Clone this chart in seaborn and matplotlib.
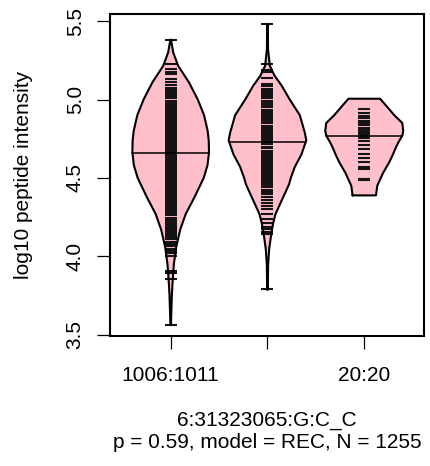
import numpy as np
import pandas as pd
import matplotlib
matplotlib.use("Agg")
import matplotlib.pyplot as plt
import seaborn as sns

# group labels (middle label is dropped in the original)
groups = ["1006:1011", "", "20:20"]

# bean outlines: y levels and half widths (category units)
bean1_y = [3.565, 3.65, 3.75, 3.84, 3.95, 4.06, 4.17, 4.27, 4.38, 4.50,
           4.58, 4.663, 4.74, 4.80, 4.90, 5.00, 5.108, 5.215, 5.30, 5.381]
bean1_w = [0.003, 0.007, 0.012, 0.020, 0.033, 0.057, 0.098, 0.155, 0.248, 0.341,
           0.380, 0.396, 0.393, 0.382, 0.345, 0.280, 0.190, 0.077, 0.026, 0.003]

bean2_y = [3.789, 3.95, 4.05, 4.15, 4.21, 4.27, 4.33, 4.40, 4.46, 4.50, 4.57,
           4.65, 4.74, 4.79, 4.90, 5.00, 5.09, 5.15, 5.215, 5.32, 5.479]
bean2_w = [0.003, 0.007, 0.018, 0.041, 0.058, 0.083, 0.127, 0.179, 0.223, 0.241, 0.282,
           0.351, 0.401, 0.385, 0.334, 0.230, 0.145, 0.075, 0.024, 0.006, 0.003]

bean3_y = [4.389, 4.45, 4.534, 4.60, 4.64, 4.70, 4.725, 4.77, 4.80, 4.85, 4.90, 4.96, 5.005]
bean3_w = [0.121, 0.134, 0.196, 0.258, 0.289, 0.331, 0.351, 0.393, 0.403, 0.393, 0.310, 0.227, 0.163]

# group means
means = [4.662, 4.732, 4.770]

# individual observations (bean lines)
obs1 = [5.381, 5.225, 5.193, 5.176, 5.162, 5.130, 5.112, 5.091, 5.075, 5.059,
        5.045, 5.035, 5.023, 5.010,
        4.99, 4.98, 4.97, 4.96, 4.95, 4.94, 4.93, 4.92, 4.91, 4.90,
        4.89, 4.88, 4.87, 4.86, 4.85, 4.84, 4.83, 4.82, 4.81, 4.80,
        4.79, 4.78, 4.77, 4.76, 4.75, 4.74, 4.73, 4.72, 4.71, 4.70,
        4.69, 4.68, 4.67, 4.66, 4.65, 4.64, 4.63, 4.62, 4.61, 4.60,
        4.59, 4.58, 4.57, 4.56, 4.55, 4.54, 4.53, 4.52, 4.51, 4.50,
        4.49, 4.48, 4.47, 4.46, 4.45, 4.44, 4.43, 4.42, 4.41, 4.40,
        4.39, 4.38, 4.37, 4.36, 4.35, 4.34, 4.33, 4.32, 4.31, 4.30,
        4.288, 4.275, 4.262, 4.248, 4.236, 4.224, 4.214, 4.200, 4.186, 4.172,
        4.160, 4.148, 4.136, 4.124, 4.110, 4.095, 4.080, 4.065, 4.050, 4.035,
        4.020, 4.005, 3.906, 3.897, 3.857, 3.565]

obs2 = [5.479, 5.227, 5.189, 5.175, 5.136, 5.100, 5.085, 5.068, 5.058, 5.048,
        5.038, 5.028, 5.018, 5.008,
        4.99, 4.98, 4.97, 4.96, 4.95, 4.93, 4.92, 4.91, 4.90, 4.89,
        4.88, 4.87, 4.86, 4.85, 4.83, 4.82, 4.81, 4.80, 4.79, 4.78,
        4.77, 4.76, 4.75, 4.74, 4.728, 4.715, 4.700, 4.690, 4.675, 4.660,
        4.645, 4.635, 4.620, 4.610, 4.600, 4.590, 4.580, 4.570, 4.560, 4.550,
        4.540, 4.530, 4.520, 4.510, 4.500, 4.490, 4.475, 4.460, 4.450, 4.440,
        4.425, 4.410, 4.400, 4.380, 4.360, 4.340, 4.320, 4.300, 4.270, 4.240,
        4.210, 4.185, 4.172, 4.153, 4.140, 3.791]

obs3 = [4.938, 4.913, 4.895, 4.879, 4.864, 4.851, 4.838, 4.821, 4.808, 4.796,
        4.783, 4.768, 4.753, 4.736, 4.708, 4.683, 4.655, 4.630, 4.600, 4.570,
        4.559, 4.496, 4.485]

profiles = [(bean1_y, bean1_w), (bean2_y, bean2_w), (bean3_y, bean3_w)]
obs = [obs1, obs2, obs3]

df = pd.DataFrame({
    "pos": np.concatenate([[i] * len(o) for i, o in enumerate(obs)]),
    "value": np.concatenate(obs),
})

sns.set_style("ticks")
plt.rcParams['font.family'] = ['Liberation Sans', 'DejaVu Sans']

fig, ax = plt.subplots(figsize=(4.3, 4.66), dpi=100)
fig.subplots_adjust(left=0.2558, right=0.986, bottom=0.279, top=0.970)

# draw the beans
for i, (ys, ws) in enumerate(profiles):
    ys = np.array(ys)
    ws = np.array(ws)
    xs = np.concatenate([i - ws, (i + ws)[::-1]])
    yy = np.concatenate([ys, ys[::-1]])
    ax.fill(xs, yy, facecolor="#FFC0CB", edgecolor="none", zorder=1)
    ax.plot(np.append(xs, xs[0]), np.append(yy, yy[0]), color="black", lw=1.5, zorder=3)

# bean lines for each observation
sns.scatterplot(data=df, x="pos", y="value", marker="_", s=85, color="#141414",
                linewidth=1.5, ax=ax, legend=False, zorder=2)

# mean lines
for i, m in enumerate(means):
    ys, ws = profiles[i]
    w = np.interp(m, ys, ws)
    ax.plot([i - w, i + w], [m, m], color="black", lw=1.1, zorder=4)

ax.set_xlim(-0.627, 2.617)
ax.set_ylim(3.493, 5.545)
ax.set_xticks([0, 1, 2])
ax.set_xticklabels(groups)
ax.set_yticks([3.5, 4.0, 4.5, 5.0, 5.5])
ax.set_yticklabels(["3.5", "4.0", "4.5", "5.0", "5.5"])
for lab in ax.get_yticklabels():
    lab.set_rotation(90)
    lab.set_va("center")

ax.tick_params(axis="both", length=9.7, width=0.9, color="black", labelsize=15, labelcolor="black")
ax.tick_params(axis="y", pad=8.5)
ax.tick_params(axis="x", pad=12)
for sp in ax.spines.values():
    sp.set_visible(True)
    sp.set_linewidth(1.5)
    sp.set_color("black")

ax.set_ylabel("log10 peptide intensity", fontsize=15, color="black")
ax.yaxis.set_label_coords(-0.245, 0.5)
ax.set_xlabel("6:31323065:G:C_C\np = 0.59, model = REC, N = 1255", fontsize=15,
              color="black", linespacing=1.2)
ax.xaxis.set_label_coords(0.5, -0.232)

fig.savefig("out.png", dpi=100)
